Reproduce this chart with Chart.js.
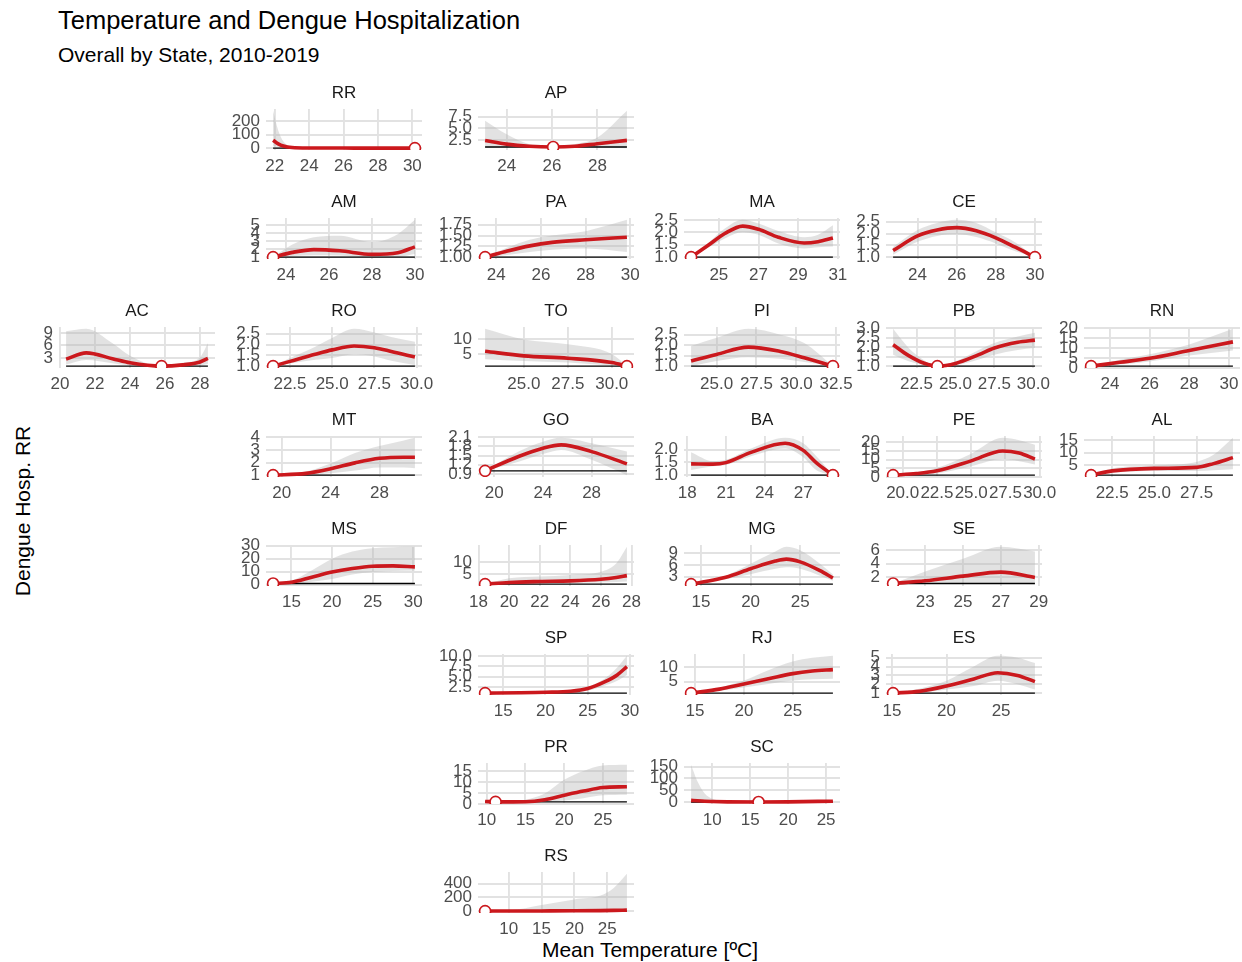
<!DOCTYPE html>
<html>
<head>
<meta charset="utf-8">
<title>Temperature and Dengue Hospitalization</title>
<script src="https://cdn.jsdelivr.net/npm/chart.js@4.4.1/dist/chart.umd.min.js"></script>
<style>
  body { margin: 0; background: #fff; width: 1242px; height: 962px; position: relative; overflow: hidden;
         font-family: 'Liberation Sans', Arial, sans-serif; }
  canvas { position: absolute; }
  .txt { position: absolute; white-space: nowrap; line-height: 1; color: #000; }
  #title { left: 58px; top: 21px; font-size: 25.5px; transform: translateY(-50%); }
  #subtitle { left: 58px; top: 54px; font-size: 21px; transform: translateY(-50%); }
  #ytitle { left: 22px; top: 511px; font-size: 21px; transform: translate(-50%, -50%) rotate(-90deg); }
  #xtitle { left: 650px; top: 949px; font-size: 21px; transform: translate(-50%, -50%); }
</style>
</head>
<body>
<div class="txt" id="title">Temperature and Dengue Hospitalization</div>
<div class="txt" id="subtitle">Overall by State, 2010-2019</div>
<div class="txt" id="ytitle">Dengue Hosp. RR</div>
<div class="txt" id="xtitle">Mean Temperature [ºC]</div>
<script>
// states in geofacet order
const states = ['RR','AP','AM','PA','MA','CE','AC','RO','TO','PI','PB','RN','MT','GO','BA','PE','AL','MS','DF','MG','SE','SP','RJ','ES','PR','SC','RS'];

// temperature knots per state (ºC)
const temps = [
  [21.9, 22.2, 22.5, 23.0, 24, 26, 28, 30.15],          // RR
  [23.05, 24, 25, 26.05, 27, 28, 29.3],                 // AP
  [23.4, 24.3, 25.3, 26.5, 28, 29.2, 30],               // AM
  [23.5, 24.5, 25.5, 26.5, 28, 29.85],                  // PA
  [23.6, 24.5, 25.3, 26.2, 27, 28, 29.3, 30, 30.75],    // MA
  [22.75, 24, 25, 26, 27, 28, 29, 30],                  // CE
  [20.35, 21.5, 23, 24, 25.8, 27, 28, 28.45],           // AC
  [21.5, 22.5, 24, 25, 26.3, 27.5, 28.5, 29.9],         // RO
  [22.8, 25, 27.5, 30, 30.86],                          // TO
  [23.4, 25, 27, 29, 30.5, 32.3],                       // PI
  [21.0, 22.0, 23.0, 23.84, 25, 26.5, 27.5, 29, 30.1],  // PB
  [23.05, 24.5, 26, 28, 30.2],                          // RN
  [19.3, 22, 24, 26, 28, 30, 30.9],                     // MT
  [19.25, 22, 24, 25.5, 28, 30.9],                      // GO
  [18.3, 20, 21, 23, 25.6, 27, 28, 29.3],               // BA
  [19.3, 21, 22.5, 25, 27.3, 28.5, 29.65],              // PE
  [21.25, 22.5, 25, 27.5, 28.5, 29.65],                 // AL
  [12.75, 15, 17.5, 20, 22.5, 25, 27.5, 30.2],          // MS
  [18.43, 20, 22, 24, 26, 27, 27.7],                    // DF
  [14, 17.5, 20, 22.5, 23.6, 25, 27, 28.3],             // MG
  [21.3, 23, 25, 27, 28.8],                             // SE
  [12.85, 17, 20, 23, 25, 27, 28.5, 29.65],             // SP
  [14.6, 17.5, 20, 22.5, 25, 27, 29.1],                 // RJ
  [15.1, 17.5, 20, 22.5, 24.7, 26.5, 28.1],             // ES
  [9.8, 11.15, 15, 17.5, 20, 22.5, 25, 28.1],           // PR
  [7.2, 8, 9, 10, 12, 16.1, 20, 25.9],                  // SC
  [6.4, 10, 15, 20, 24, 26, 28]                         // RS
];

// relative risk (fitted curve)
const rrFit = [
  [59, 32, 16, 5, 1.8, 1.3, 1.1, 1],
  [2.4, 1.6, 1.15, 1, 1.15, 1.7, 2.4],
  [1, 1.6, 1.95, 1.8, 1.35, 1.55, 2.3],
  [1, 1.14, 1.26, 1.34, 1.40, 1.46],
  [1, 1.5, 1.95, 2.25, 2.12, 1.8, 1.57, 1.62, 1.77],
  [1.28, 1.9, 2.15, 2.25, 2.12, 1.82, 1.42, 1],
  [2.7, 4.2, 2.8, 1.8, 1, 1.3, 2.0, 2.85],
  [1, 1.22, 1.55, 1.75, 1.93, 1.85, 1.68, 1.42],
  [5.9, 4.4, 3.6, 2.2, 1],
  [1.24, 1.56, 1.91, 1.7, 1.4, 1],
  [2.12, 1.55, 1.15, 1, 1.14, 1.6, 1.95, 2.25, 2.36],
  [1, 2.9, 4.9, 8.8, 13.1],
  [1, 1.14, 1.5, 1.97, 2.33, 2.42, 2.42],
  [1, 1.47, 1.74, 1.85, 1.63, 1.23],
  [1.44, 1.43, 1.49, 1.9, 2.25, 1.97, 1.49, 1],
  [1, 1.9, 3.5, 9.2, 14.9, 13.7, 10.2],
  [1, 2.7, 3.7, 4.1, 5.6, 8],
  [1, 1.9, 5.8, 9.7, 12.4, 14.2, 14.5, 13.7],
  [1, 1.7, 2.1, 2.35, 3, 3.7, 4.5],
  [1, 2.8, 5, 7, 7.5, 6.8, 4.5, 2.6],
  [1, 1.4, 2.1, 2.7, 1.9],
  [1, 1.08, 1.2, 1.45, 2.1, 3.7, 5.4, 7.4],
  [1, 2.4, 4.2, 6, 7.8, 8.7, 9.2],
  [1, 1.2, 1.8, 2.6, 3.3, 3.0, 2.3],
  [1.2, 1, 1.1, 2, 4, 5.9, 7.5, 7.9],
  [8, 6, 4, 3, 1.8, 1, 1.8, 4.5],
  [1, 1.5, 3, 5, 8, 11, 15]
];

// lower confidence bound
const rrLow = [
  [14, 9, 5, 2, 0.9, 0.8, 0.8, 1],
  [0.8, 0.9, 0.95, 1, 0.95, 0.9, 0.75],
  [1, 1.15, 1.25, 1.2, 1.0, 1.05, 1.4],
  [1, 1.05, 1.12, 1.17, 1.2, 1.12],
  [1, 1.4, 1.75, 2.0, 1.9, 1.55, 1.35, 1.4, 1.43],
  [1.1, 1.65, 1.9, 1.97, 1.85, 1.58, 1.25, 1],
  [1.4, 2.5, 1.7, 1.2, 1, 1.0, 1.2, 1.5],
  [1, 1.12, 1.3, 1.38, 1.55, 1.45, 1.25, 1.05],
  [3.3, 2.7, 2.2, 1.2, 1],
  [1.0, 1.24, 1.42, 1.35, 1.2, 1],
  [1.59, 1.25, 1.05, 1, 1.05, 1.35, 1.6, 1.85, 1.95],
  [1, 1.8, 3.3, 6.3, 8.8],
  [1, 1.0, 1.14, 1.36, 1.6, 1.6, 1.55],
  [1, 1.3, 1.55, 1.68, 1.36, 0.86],
  [1.2, 1.35, 1.4, 1.75, 2.04, 1.7, 1.2, 1],
  [1, 1.3, 2, 6.1, 10.2, 9, 7.1],
  [1, 2, 2.7, 2.7, 3, 3.4],
  [1, 0.5, 2.4, 4.5, 7.9, 9.7, 10.5, 11],
  [1, 1, 1.4, 1.5, 1.7, 1.9, 2.1],
  [1, 2.3, 3.6, 5, 5.4, 5, 3.2, 1.9],
  [1, 1.1, 1.05, 1.0, 0.9],
  [1, 1, 1.1, 1.3, 1.6, 2.8, 4.0, 5.4],
  [1, 1.8, 3, 4.2, 5.4, 5.8, 6],
  [1, 1.05, 1.4, 1.8, 2.4, 2.0, 1.4],
  [0.9, 1, 0.9, 1.1, 1.6, 2.7, 4, 4.3],
  [0.5, 0.6, 0.7, 0.8, 0.9, 1, 0.9, 0.5],
  [1, 0.5, 0.3, 0.2, 0.2, 0.2, 0.2]
];

// upper confidence bound
const rrHigh = [
  [275, 130, 50, 12, 4, 3, 2.5, 1],
  [6.6, 3.7, 1.6, 1, 1.6, 3, 8.7],
  [1, 2.6, 3.5, 3.7, 2.9, 3.9, 5.7],
  [1, 1.22, 1.4, 1.5, 1.6, 1.86],
  [1, 1.6, 2.15, 2.5, 2.35, 2.05, 1.8, 1.9, 2.28],
  [1.43, 2.15, 2.45, 2.58, 2.45, 2.05, 1.62, 1],
  [9.4, 10, 6.5, 3.5, 1, 1.8, 3.1, 6.5],
  [1, 1.38, 1.9, 2.3, 2.72, 2.55, 2.35, 2.13],
  [13.3, 9.8, 8.2, 5, 1],
  [1.96, 2.35, 2.78, 2.5, 2.1, 1],
  [2.95, 1.95, 1.3, 1, 1.25, 1.85, 2.21, 2.55, 2.75],
  [1, 4.2, 6.9, 11.8, 19.6],
  [1, 1.28, 1.92, 2.75, 3.3, 3.75, 3.95],
  [1, 1.63, 1.95, 2.08, 1.9, 1.63],
  [1.9, 1.55, 1.6, 2.05, 2.46, 2.25, 1.75, 1],
  [1, 2.6, 5.1, 13.3, 22.4, 21, 18.4],
  [1, 3.7, 4.9, 6.3, 9.1, 15.9],
  [1, 3.2, 11, 20, 25.5, 28, 28.8, 29],
  [1, 3.4, 4.1, 4.8, 6.1, 9.5, 16.3],
  [1, 3.2, 6.3, 9.5, 10.7, 9.8, 6.3, 3.5],
  [1, 2.8, 4.7, 6.5, 5.8],
  [1, 1.2, 1.45, 1.8, 2.6, 4.5, 7.2, 10],
  [1, 3, 5.4, 9, 12, 13.3, 14],
  [1, 1.5, 2.4, 4, 5.2, 5.0, 4.4],
  [1.6, 1, 2, 4.8, 11, 15, 17.5, 17.8],
  [157, 90, 37, 15, 4, 1, 3, 8],
  [1, 10, 90, 170, 225, 335, 540]
];

// reference (minimum risk) temperature
const refTemp = [30.15, 26.05, 23.4, 23.5, 23.6, 30, 25.8, 21.5, 30.86, 32.3, 23.84, 23.05, 19.3, 19.25, 29.3, 19.3, 21.25, 12.75, 18.43, 14, 21.3, 12.85, 14.6, 15.1, 11.15, 16.1, 6.4];

// tick labels
const xTicks = [
  ['22','24','26','28','30'], ['24','26','28'], ['24','26','28','30'], ['24','26','28','30'],
  ['25','27','29','31'], ['24','26','28','30'], ['20','22','24','26','28'], ['22.5','25.0','27.5','30.0'],
  ['25.0','27.5','30.0'], ['25.0','27.5','30.0','32.5'], ['22.5','25.0','27.5','30.0'], ['24','26','28','30'],
  ['20','24','28'], ['20','24','28'], ['18','21','24','27'], ['20.0','22.5','25.0','27.5','30.0'],
  ['22.5','25.0','27.5'], ['15','20','25','30'], ['18','20','22','24','26','28'], ['15','20','25'],
  ['23','25','27','29'], ['15','20','25','30'], ['15','20','25'], ['15','20','25'],
  ['10','15','20','25'], ['10','15','20','25'], ['10','15','20','25']
];
const yTicks = [
  ['0','100','200'], ['2.5','5.0','7.5'], ['1','2','3','4','5'], ['1.00','1.25','1.50','1.75'],
  ['1.0','1.5','2.0','2.5'], ['1.0','1.5','2.0','2.5'], ['3','6','9'], ['1.0','1.5','2.0','2.5'],
  ['5','10'], ['1.0','1.5','2.0','2.5'], ['1.0','1.5','2.0','2.5','3.0'], ['0','5','10','15','20'],
  ['1','2','3','4'], ['0.9','1.2','1.5','1.8','2.1'], ['1.0','1.5','2.0'], ['0','5','10','15','20'],
  ['5','10','15'], ['0','10','20','30'], ['5','10'], ['3','6','9'],
  ['2','4','6'], ['2.5','5.0','7.5','10.0'], ['5','10'], ['1','2','3','4','5'],
  ['0','5','10','15'], ['0','50','100','150'], ['0','200','400']
];

// grid placement (column, row) of each state panel
const panelCol = [1,2,1,2,3,4,0,1,2,3,4,5,1,2,3,4,5,1,2,3,4,2,3,4,2,3,2];
const panelRow = [0,0,1,1,1,1,2,2,2,2,2,2,3,3,3,3,3,4,4,4,4,5,5,5,6,6,7];

const colLeft = [59, 266, 478, 684, 886, 1084];
const PANEL_W = 156, PANEL_H = 41, AXIS_W = 56, STRIP_H = 26, XAXIS_H = 30, PAD_R = 14;
const RED = '#cb181d';
const RIBBON = 'rgba(179,179,179,0.38)';
const GRID = '#e2e2e2';

Chart.defaults.font.family = "'Liberation Sans', Arial, sans-serif";
Chart.defaults.animation = false;

states.forEach((st, i) => {
  const cv = document.createElement('canvas');
  cv.width = AXIS_W + PANEL_W + PAD_R;
  cv.height = STRIP_H + PANEL_H + XAXIS_H;
  cv.style.left = (colLeft[panelCol[i]] - AXIS_W) + 'px';
  cv.style.top = (93 + 109 * panelRow[i] - 10) + 'px';
  document.body.appendChild(cv);

  const t = temps[i];
  const xMin = Math.min(...t), xMax = Math.max(...t);
  const yMin = Math.min(1, ...rrLow[i]), yMax = Math.max(...rrHigh[i]);
  const xPad = (xMax - xMin) * 0.05, yPad = (yMax - yMin) * 0.05;
  const pts = arr => t.map((x, k) => ({ x: x, y: arr[k] }));
  const xl = xTicks[i], yl = yTicks[i];

  new Chart(cv, {
    type: 'line',
    data: {
      datasets: [
        { data: [{ x: refTemp[i], y: 1 }], showLine: false, pointRadius: 5.5,
          pointBackgroundColor: '#fff', pointBorderColor: RED, pointBorderWidth: 1.6 },
        { data: pts(rrFit[i]), borderColor: RED, borderWidth: 3.6, pointRadius: 0,
          cubicInterpolationMode: 'monotone' },
        { data: [{ x: xMin, y: 1 }, { x: xMax, y: 1 }], borderColor: '#000', borderWidth: 1.4, pointRadius: 0 },
        { data: pts(rrHigh[i]), borderColor: 'transparent', borderWidth: 0, pointRadius: 0,
          fill: '+1', backgroundColor: RIBBON, cubicInterpolationMode: 'monotone' },
        { data: pts(rrLow[i]), borderColor: 'transparent', borderWidth: 0, pointRadius: 0,
          fill: false, cubicInterpolationMode: 'monotone' }
      ]
    },
    options: {
      responsive: false,
      animation: false,
      layout: { padding: { left: 0, right: PAD_R, top: 0, bottom: 0 } },
      plugins: {
        legend: { display: false },
        tooltip: { enabled: false },
        title: {
          display: true, text: st, fullSize: false, color: '#1a1a1a',
          font: { size: 17, weight: 'normal', lineHeight: 1.2 },
          padding: { top: 0, bottom: 5.6 }
        }
      },
      scales: {
        x: {
          type: 'linear', bounds: 'data',
          min: xMin - xPad, max: xMax + xPad,
          grid: { color: GRID, lineWidth: 1.9, drawTicks: false },
          border: { display: false },
          ticks: { autoSkip: false, maxRotation: 0, minRotation: 0, padding: 6,
                   color: '#4d4d4d', font: { size: 17 },
                   callback: (v, k) => xl[k] },
          afterBuildTicks: s => { s.ticks = xl.map(v => ({ value: parseFloat(v) })); },
          afterFit: s => { s.height = XAXIS_H; s.paddingLeft = 0; s.paddingRight = 0; }
        },
        y: {
          type: 'linear', bounds: 'data',
          min: yMin - yPad, max: yMax + yPad,
          grid: { color: GRID, lineWidth: 1.9, drawTicks: false },
          border: { display: false },
          ticks: { autoSkip: false, padding: 6, color: '#4d4d4d', font: { size: 17 },
                   callback: (v, k) => yl[k] },
          afterBuildTicks: s => { s.ticks = yl.map(v => ({ value: parseFloat(v) })); },
          afterFit: s => { s.width = AXIS_W; s.paddingTop = 0; s.paddingBottom = 0; }
        }
      }
    }
  });
});
</script>
</body>
</html>
